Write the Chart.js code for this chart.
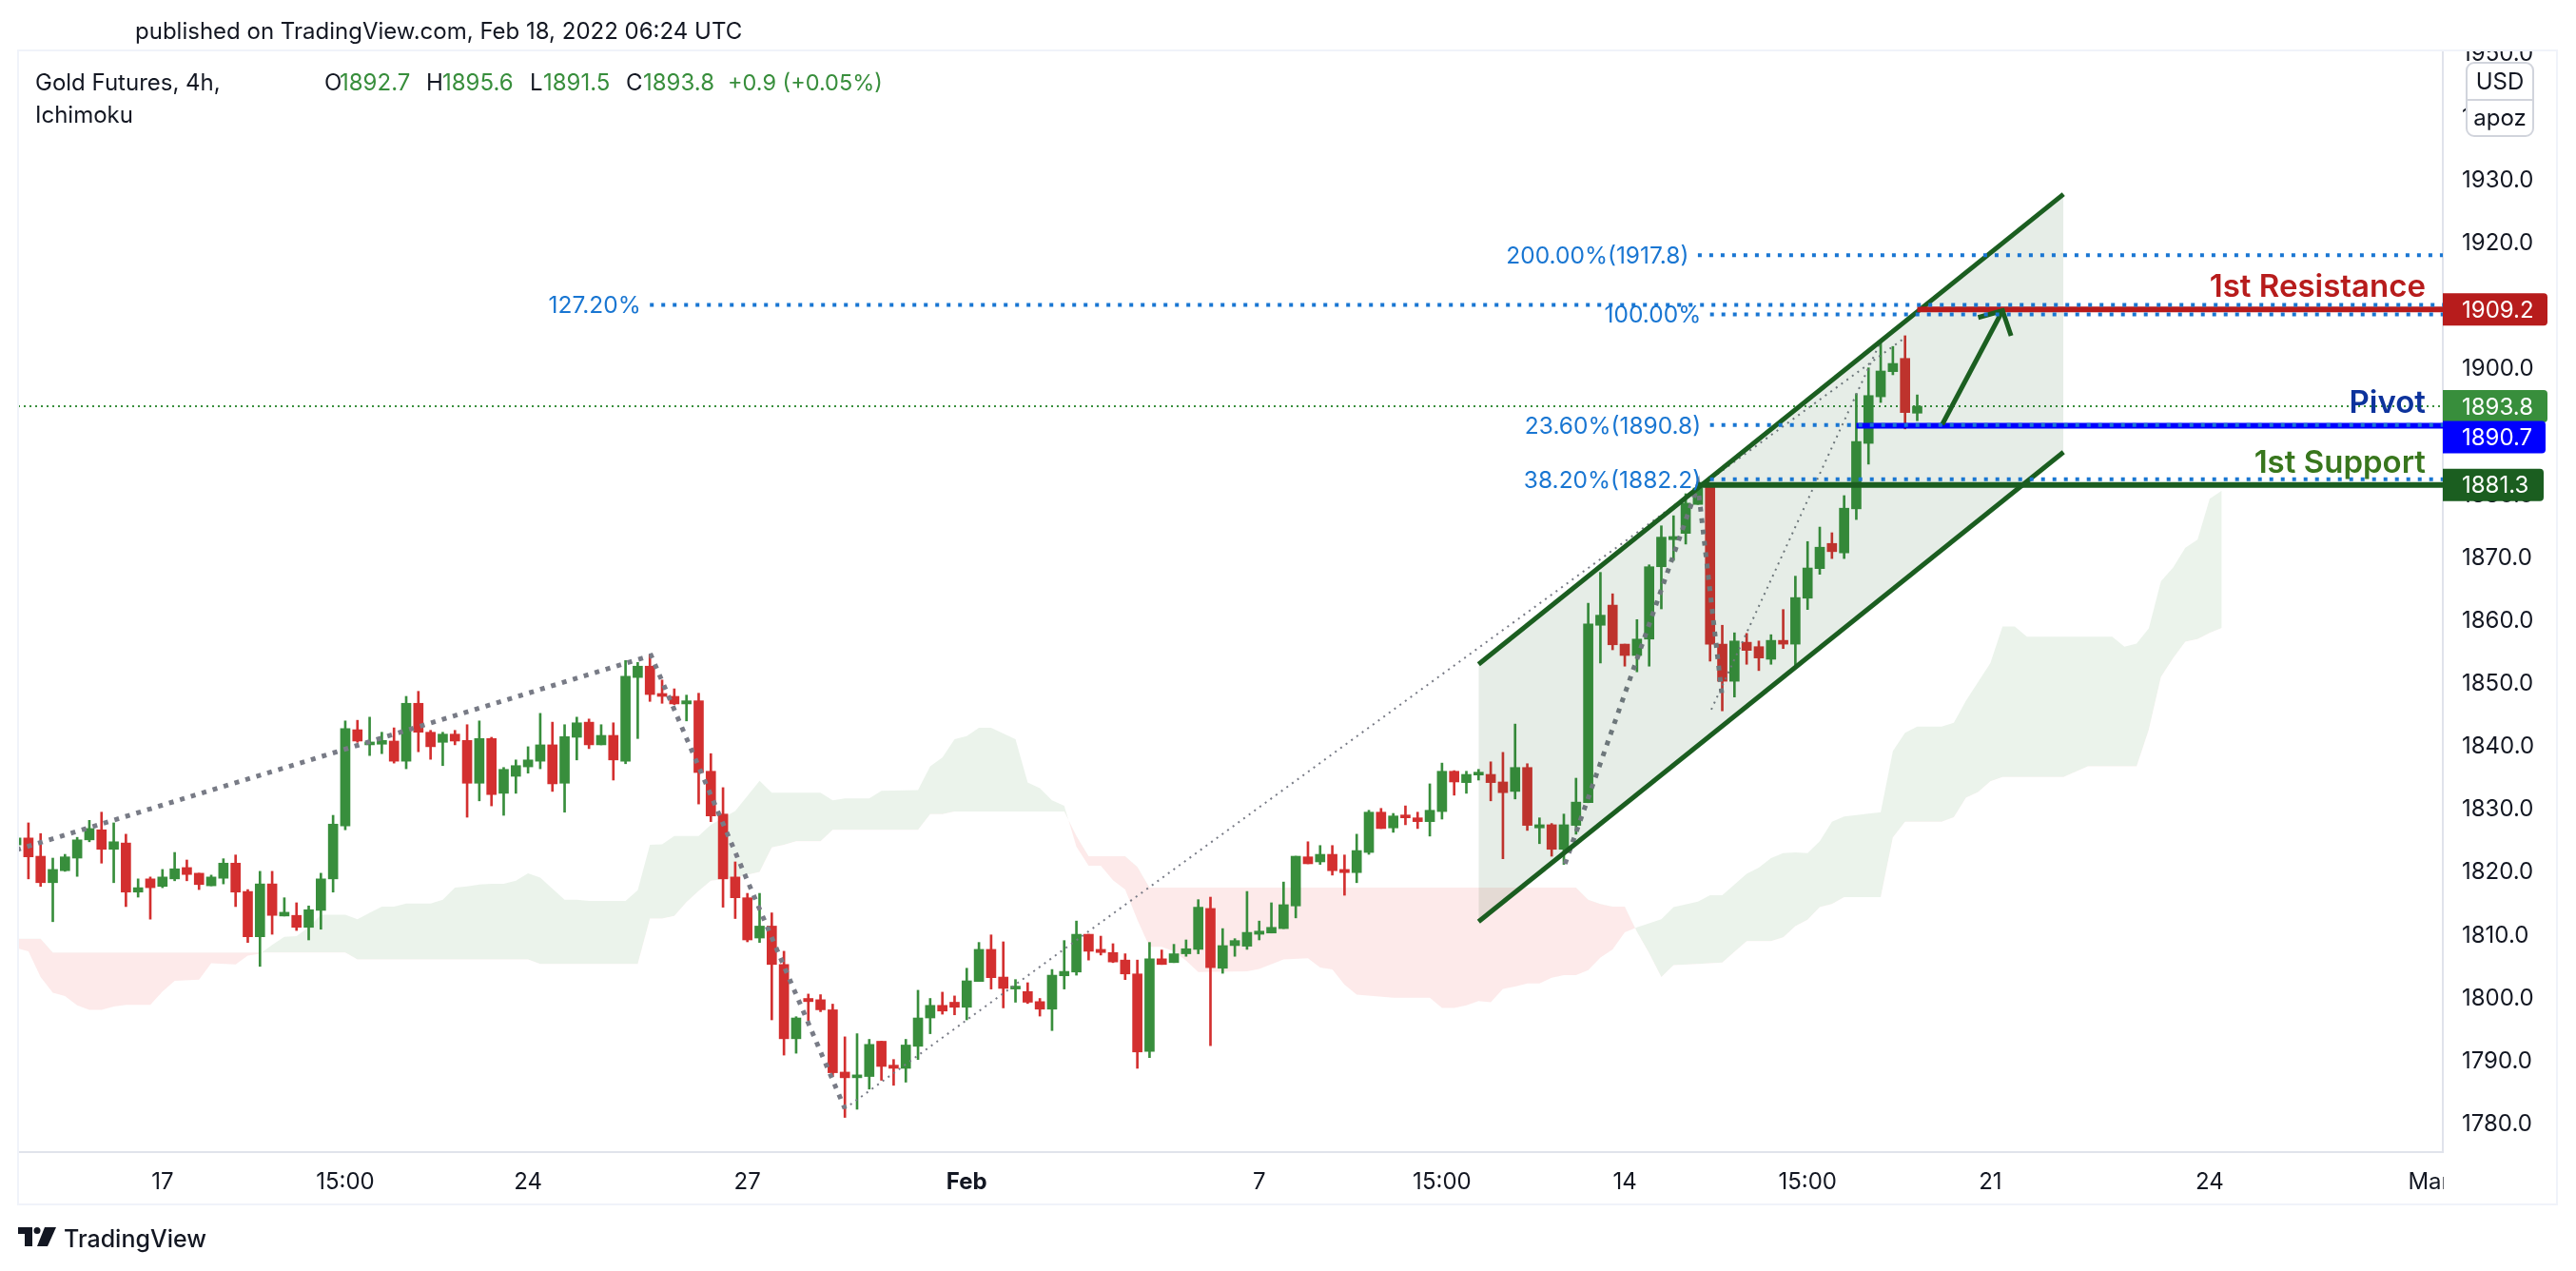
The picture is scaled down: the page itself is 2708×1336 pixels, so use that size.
<!DOCTYPE html>
<html>
<head>
<meta charset="utf-8">
<title>Gold Futures, 4h</title>
<script src="https://cdn.jsdelivr.net/npm/chart.js@4"></script>
<style>
    html, body { margin: 0; padding: 0; background: #fff; }
    canvas { display: block; }
</style>
</head>
<body>
<canvas id="goldChart" width="2708" height="1336"></canvas>
<script>
// Candles, one entry per 4h bar
const opens = [
    1824.1,1825.2,1822.3,1818.1,1820.0,1822.0,1824.9,1826.5,1823.4,1824.4,
    1816.6,1818.7,1817.5,1818.7,1820.5,1819.6,1817.6,1818.8,1821.2,1816.7,
    1809.5,1817.9,1812.8,1812.9,1811.0,1813.7,1818.7,1827.1,1842.4,1840.0,
    1840.1,1840.6,1837.4,1846.6,1842.0,1840.4,1841.7,1840.7,1833.9,1841.0,
    1832.3,1835.0,1836.5,1837.4,1840.0,1833.9,1841.2,1843.6,1840.0,1841.5,
    1837.4,1850.7,1852.5,1848.0,1847.7,1846.5,1847.0,1835.8,1829.0,1819.0,
    1815.7,1809.3,1811.2,1805.1,1793.3,1799.7,1799.5,1797.9,1788.0,1787.1,
    1787.3,1792.9,1789.1,1788.6,1792.1,1796.6,1798.6,1799.1,1798.3,1802.4,
    1807.5,1803.1,1801.2,1800.8,1799.2,1798.0,1803.3,1803.9,1809.9,1807.5,
    1807.0,1805.8,1803.6,1791.3,1806.0,1805.4,1806.8,1807.5,1814.0,1804.5,
    1808.1,1808.0,1809.9,1810.1,1810.8,1814.4,1822.2,1821.4,1822.6,1820.2,
    1819.7,1822.9,1829.3,1826.8,1828.7,1828.4,1827.8,1829.4,1835.8,1834.0,
    1835.2,1835.3,1834.1,1832.6,1836.4,1826.8,1827.3,1823.4,1827.2,1830.8,
    1859.0,1862.2,1856.0,1854.2,1856.8,1868.3,1872.6,1873.6,1878.2,1881.0,
    1856.0,1850.1,1856.3,1855.6,1853.6,1856.6,1856.0,1863.3,1868.0,1872.0,
    1870.5,1877.5,1887.9,1895.3,1899.3,1901.4,1892.7
];
const highs = [
    1825.5,1827.6,1825.9,1822.0,1822.6,1825.3,1828.0,1829.3,1827.6,1825.8,
    1818.7,1819.0,1820.2,1822.9,1821.7,1819.6,1819.3,1821.9,1822.5,1817.0,
    1819.9,1819.9,1815.7,1814.9,1814.4,1819.6,1828.8,1843.8,1843.9,1844.4,
    1842.0,1842.7,1847.7,1848.5,1842.3,1842.0,1842.3,1843.2,1843.8,1841.2,
    1836.4,1837.6,1839.7,1845.0,1843.6,1843.2,1844.4,1844.1,1843.2,1843.5,
    1853.4,1853.1,1854.3,1850.3,1848.9,1847.9,1848.2,1838.6,1833.2,1821.4,
    1816.4,1816.4,1813.3,1807.2,1796.8,1800.4,1800.3,1798.8,1793.6,1794.1,
    1793.2,1792.9,1790.0,1793.2,1801.0,1799.7,1800.7,1800.1,1804.5,1808.6,
    1809.8,1808.7,1802.7,1802.2,1799.7,1804.3,1808.9,1812.0,1809.9,1809.6,
    1808.4,1806.8,1805.8,1808.6,1807.4,1808.3,1809.0,1815.4,1815.8,1810.8,
    1809.2,1816.7,1812.0,1814.9,1818.2,1822.3,1824.6,1824.0,1824.0,1822.5,
    1825.8,1829.6,1829.9,1829.1,1830.3,1829.3,1833.8,1837.1,1835.9,1835.8,
    1836.1,1837.3,1838.8,1843.3,1837.0,1828.4,1827.5,1829.0,1834.7,1862.5,
    1867.4,1864.0,1856.0,1859.9,1868.6,1874.8,1876.4,1879.9,1881.3,1881.1,
    1859.0,1857.8,1857.7,1856.5,1857.5,1861.5,1866.8,1872.3,1874.6,1873.7,
    1879.6,1895.8,1899.9,1904.1,1903.3,1905.0,1895.6
];
const lows = [
    1823.5,1818.7,1817.5,1811.9,1819.9,1819.1,1824.6,1821.2,1818.1,1814.3,
    1815.8,1812.3,1817.3,1818.4,1818.4,1817.0,1817.6,1817.9,1814.3,1808.6,
    1804.8,1809.9,1812.8,1810.5,1809.0,1810.7,1816.6,1826.5,1840.4,1838.3,
    1838.6,1837.1,1836.2,1838.9,1837.7,1836.7,1840.0,1828.5,1831.1,1830.3,
    1828.8,1832.3,1835.5,1836.2,1832.6,1829.3,1837.6,1839.4,1840.0,1834.4,
    1837.0,1841.0,1846.9,1846.6,1846.4,1843.8,1830.6,1827.8,1814.2,1812.4,
    1808.7,1808.6,1796.3,1790.7,1791.0,1796.2,1797.6,1787.3,1780.8,1782.1,
    1785.3,1786.7,1785.9,1786.4,1790.0,1794.1,1797.2,1797.1,1796.3,1802.4,
    1801.2,1798.2,1799.1,1798.9,1796.9,1794.6,1801.2,1803.4,1805.8,1806.6,
    1805.4,1802.7,1788.6,1790.3,1805.1,1805.4,1806.4,1806.8,1792.2,1803.7,
    1806.4,1807.5,1809.0,1810.1,1810.8,1812.5,1821.1,1821.0,1819.3,1816.1,
    1818.1,1822.6,1826.7,1826.1,1827.3,1826.7,1825.5,1828.2,1832.0,1832.3,
    1834.4,1831.1,1821.9,1831.4,1826.4,1824.3,1822.3,1821.0,1825.8,1830.8,
    1853.0,1855.1,1852.5,1851.6,1852.5,1861.6,1869.3,1871.9,1878.2,1853.3,
    1845.4,1847.6,1852.8,1851.8,1852.8,1855.3,1852.2,1861.5,1867.1,1869.6,
    1869.6,1875.8,1884.6,1894.4,1898.8,1890.2,1891.5
];
const closes = [
    1825.2,1822.2,1818.1,1820.2,1822.2,1824.9,1826.7,1823.4,1824.6,1816.6,
    1817.3,1817.3,1819.0,1820.3,1819.4,1817.8,1819.0,1821.2,1816.6,1809.5,
    1817.9,1812.9,1813.4,1811.0,1813.8,1818.7,1827.4,1842.6,1840.6,1840.4,
    1840.7,1837.4,1846.6,1842.0,1839.7,1841.7,1840.6,1833.9,1841.0,1832.1,
    1836.1,1836.7,1837.6,1840.0,1833.8,1841.3,1843.5,1840.0,1841.5,1837.6,
    1850.9,1852.5,1848.0,1847.7,1846.5,1847.0,1835.6,1828.7,1818.7,1815.7,
    1809.0,1811.2,1805.1,1793.3,1796.6,1799.2,1797.9,1787.9,1787.1,1787.4,
    1792.4,1788.9,1788.6,1792.3,1796.6,1798.6,1797.7,1798.3,1802.5,1807.5,
    1803.0,1801.3,1801.6,1799.1,1798.0,1803.4,1804.0,1809.9,1807.2,1807.0,
    1805.5,1803.6,1791.2,1806.0,1805.1,1806.8,1807.6,1814.2,1804.6,1808.1,
    1808.9,1810.2,1810.4,1811.0,1814.6,1822.3,1821.1,1822.6,1820.0,1819.7,
    1823.2,1829.3,1826.7,1828.7,1828.4,1827.8,1829.6,1835.8,1834.1,1835.3,
    1835.5,1834.0,1832.4,1836.4,1827.2,1827.3,1823.4,1827.3,1830.9,1859.2,
    1860.6,1855.9,1854.2,1856.8,1868.3,1873.0,1873.1,1878.4,1880.8,1856.0,
    1850.1,1856.5,1855.0,1853.8,1856.6,1856.0,1863.4,1868.1,1871.4,1870.7,
    1877.6,1888.2,1895.5,1899.4,1900.6,1892.8,1893.8
];

// Ichimoku spans, vertices only (bar index, price)
const spanAX = [0,1,2,3,4,5,6,7,8,9,11,12,13,15,16,18,19,20,21,22,23,24,25,27,28,29,30,31,32,34,35,36,37,38,39,40,41,42,43,45,46,47,50,51,52,53,54,56,57,59,61,62,66,67,68,70,71,74,75,76,77,78,79,80,82,83,84,85,86,87,88,89,90,91,92,93,94,95,96,97,101,102,104,106,107,108,109,110,113,116,117,118,119,120,121,122,123,124,125,126,127,128,129,130,131,132,133,135,136,138,139,140,142,143,144,145,146,147,148,149,150,153,154,155,156,158,159,160,162,163,164,165,172,173,174,175,176,177,178,179,180,181];
const spanA = [1807.7,1807.2,1803.1,1800.6,1800.1,1798.6,1797.9,1797.9,1798.4,1798.7,1798.7,1800.8,1802.5,1802.7,1805.3,1805.1,1806.5,1806.8,1808.2,1809.5,1809.6,1811.0,1813.0,1813.0,1812.3,1813.3,1814.3,1814.3,1814.8,1814.8,1815.4,1817.3,1817.5,1817.8,1817.9,1817.9,1818.4,1819.6,1818.9,1815.4,1815.4,1815.2,1815.2,1816.9,1824.1,1824.2,1825.5,1825.5,1827.3,1829.5,1834.3,1832.4,1832.4,1831.2,1831.5,1831.5,1832.7,1832.8,1836.6,1838.0,1840.9,1841.4,1842.7,1842.7,1840.9,1834.0,1833.1,1831.2,1830.3,1823.8,1820.8,1820.8,1818.5,1817.0,1812.2,1807.9,1807.9,1807.2,1805.7,1803.9,1804.0,1804.4,1805.9,1806.1,1804.6,1804.3,1801.9,1800.3,1799.8,1799.8,1798.2,1798.2,1798.6,1799.3,1799.1,1801.2,1801.6,1802.1,1802.1,1803.0,1803.4,1803.4,1804.2,1806.2,1807.5,1810.2,1811.0,1812.3,1814.2,1815.1,1816.1,1816.1,1819.5,1820.5,1822.0,1822.8,1822.9,1822.8,1824.7,1827.8,1828.6,1829.3,1839.0,1841.9,1842.9,1842.9,1843.5,1847.0,1853.0,1858.8,1858.8,1857.2,1857.2,1855.6,1856.1,1858.5,1866.0,1868.2,1871.3,1872.6,1879.1,1880.4];
const spanBX = [0,2,3,27,28,42,43,51,52,53,54,55,56,57,59,61,62,63,64,66,67,74,75,76,77,86,87,88,91,92,93,128,129,130,131,132,133,134,135,136,138,140,142,144,145,146,147,148,149,150,153,154,155,158,159,160,161,162,163,168,170,174,175,176,177,178,179,180,181];
const spanB = [1809.2,1809.2,1807.0,1807.0,1805.9,1805.9,1805.2,1805.2,1812.4,1812.4,1812.8,1815.0,1816.8,1818.4,1818.9,1819.8,1823.7,1824.1,1824.7,1824.7,1826.5,1826.5,1829.0,1829.0,1829.4,1829.4,1825.5,1822.3,1822.3,1820.6,1817.3,1817.3,1815.4,1814.7,1814.3,1814.3,1810.3,1806.9,1803.1,1805.0,1805.2,1805.4,1808.8,1808.8,1809.4,1811.2,1812.2,1814.2,1814.7,1815.8,1815.8,1825.3,1827.8,1827.8,1828.5,1831.6,1832.5,1834.2,1834.9,1834.9,1836.6,1836.6,1842.4,1850.8,1853.8,1856.4,1856.8,1857.8,1858.6];

// Ascending channel
const channelX = [120, 168];
const channelUpper = [1852.8, 1927.5];
const channelLower = [1811.9, 1886.5];

// Trend drawings
const thickLeg1X = [0, 52.1, 68];
const thickLeg1Y = [1823.3, 1854.2, 1782.2];
const thickLeg2X = [127.1, 138, 140];
const thickLeg2Y = [1821.1, 1881.2, 1847.5];
const thinLeg1X = [68, 155];
const thinLeg1Y = [1782.2, 1904.7];
const thinLeg2X = [139.1, 153];
const thinLeg2Y = [1845.6, 1904.1];

// Arrow up to resistance
const arrowShaftX = [158.05, 163];
const arrowShaftY = [1890.9, 1909.0];
const arrowHeadX = [161, 163, 163.7];
const arrowHeadY = [1907.9, 1909.0, 1905.0];

// Fibonacci levels
const fibValues = [1917.8, 1909.9, 1908.4, 1890.8, 1882.2];
const fibStarts = [138, 52, 139, 139, 139];
const fibLabels = ['200.00%(1917.8)', '127.20%', '100.00%', '23.60%(1890.8)', '38.20%(1882.2)'];

// Support / resistance
const levelNames = ['1st Resistance', 'Pivot', '1st Support'];
const levelValues = [1909.2, 1890.7, 1881.3];
const levelStarts = [156, 151, 138];
const levelColors = ['#b71c1c', '#0000ff', '#1b5e20'];
const levelTextColors = ['#b71c1c', '#0d339c', '#38761d'];

const lastPrice = 1893.8;

// Axis ticks
const priceTicks = [1780,1790,1800,1810,1820,1830,1840,1850,1860,1870,1880,1890,1900,1910,1920,1930,1940,1950];
const timeTicks = [12, 27, 42, 60, 78, 102, 117, 132, 147, 162, 180, 198];
const timeLabels = ['17', '15:00', '24', '27', 'Feb', '7', '15:00', '14', '15:00', '21', '24', 'Mar'];

const xMin = 0.15, xMax = 199.13;
const yMin = 1775.29, yMax = 1950.34;

const GREEN = '#388e3c';
const RED = '#d32f2f';
const DARK = '#131722';
const FIB_BLUE = '#1976d2';
const FONT = 'Inter, "Liberation Sans", sans-serif';

const candleColors = opens.map((o, i) => closes[i] >= opens[i] ? GREEN : RED);
const wicks = opens.map((o, i) => ({ x: i, y: [lows[i], highs[i]] }));
const bodies = opens.map((o, i) => ({ x: i, y: [opens[i], closes[i]] }));

function toPoints(xs, ys) {
    return xs.map((x, i) => ({ x: x, y: ys[i] }));
}

function lineSet(points, color, width, dash, order) {
    return {
        type: 'line',
        data: points,
        borderColor: color,
        borderWidth: width,
        borderDash: dash || [],
        borderCapStyle: 'butt',
        pointRadius: 0,
        tension: 0,
        fill: false,
        order: order
    };
}

const datasets = [];
// 0, 1: cloud
datasets.push(Object.assign(lineSet(toPoints(spanAX, spanA), 'transparent', 0, [], 20), {
    fill: { target: 1, above: 'rgba(56,142,60,0.1)', below: 'rgba(239,83,80,0.12)' }
}));
datasets.push(lineSet(toPoints(spanBX, spanB), 'transparent', 0, [], 20));
// 2, 3: channel
datasets.push(Object.assign(lineSet(toPoints(channelX, channelUpper), '#1b5e20', 5, [], 3), {
    fill: { target: 3, above: 'rgba(27,94,32,0.11)', below: 'rgba(27,94,32,0.11)' }
}));
datasets.push(lineSet(toPoints(channelX, channelLower), '#1b5e20', 5, [], 3));

datasets.push(lineSet(toPoints([xMin, xMax], [lastPrice, lastPrice]), GREEN, 2, [2, 4], 12));

datasets.push({
    type: 'bar', data: wicks, backgroundColor: candleColors, barThickness: 2,
    grouped: false, minBarLength: 1, order: 8
});
datasets.push({
    type: 'bar', data: bodies, backgroundColor: candleColors, barThickness: 10,
    grouped: false, minBarLength: 3, order: 7
});

datasets.push(lineSet(toPoints(thickLeg1X, thickLeg1Y), '#787b86', 5, [5, 7], 5));
datasets.push(lineSet(toPoints(thickLeg2X, thickLeg2Y), '#787b86', 5, [5, 7], 5));
datasets.push(lineSet(toPoints(thinLeg1X, thinLeg1Y), '#787b86', 2, [2, 5], 5));
datasets.push(lineSet(toPoints(thinLeg2X, thinLeg2Y), '#787b86', 2, [2, 5], 5));

levelValues.forEach((v, i) => {
    datasets.push(lineSet(toPoints([levelStarts[i], xMax], [v, v]), levelColors[i], 6, [], 2));
});
fibValues.forEach((v, i) => {
    datasets.push(lineSet(toPoints([fibStarts[i], xMax], [v, v]), FIB_BLUE, 4, [4, 8], 1));
});

datasets.push(lineSet(toPoints(arrowShaftX, arrowShaftY), '#1b5e20', 5, [], 1));
datasets.push(lineSet(toPoints(arrowHeadX, arrowHeadY), '#1b5e20', 5, [], 1));

function label(ctx, text, x, y, font, color, align) {
    ctx.font = font;
    ctx.fillStyle = color;
    ctx.textAlign = align || 'left';
    ctx.textBaseline = 'middle';
    // Inter sits a little high on the middle baseline
    ctx.fillText(text, x, y + 1.5);
}

// Everything TradingView paints around the plot: header, tags, frame, logo
const overlay = {
    id: 'overlay',
    afterDraw(chart) {
        const ctx = chart.ctx;
        const { left, right, top, bottom } = chart.chartArea;
        const yScale = chart.scales.y;
        const xScale = chart.scales.x;
        const panelRight = 2688, frameBottom = 1266;

        ctx.save();
        // hide whatever spills out of the panels
        ctx.fillStyle = '#fff';
        ctx.fillRect(0, 0, 2708, top);
        ctx.fillRect(right + 1, bottom + 1, panelRight - right - 1, frameBottom - bottom - 1);

        // frame
        ctx.strokeStyle = '#f0f3fa';
        ctx.lineWidth = 2;
        ctx.strokeRect(left, top, panelRight - left, frameBottom - top);

        const f24 = '24px ' + FONT;
        label(ctx, 'published on TradingView.com, Feb 18, 2022 06:24 UTC', 142, 32, f24, DARK);
        label(ctx, 'Gold Futures, 4h,', 37, 86, f24, DARK);
        label(ctx, 'Ichimoku', 37, 120, f24, DARK);

        // OHLC legend
        label(ctx, 'O', 341, 86, f24, DARK);
        label(ctx, '1892.7', 357, 86, f24, GREEN);
        label(ctx, 'H', 448, 86, f24, DARK);
        label(ctx, '1895.6', 465, 86, f24, GREEN);
        label(ctx, 'L', 557, 86, f24, DARK);
        label(ctx, '1891.5', 571, 86, f24, GREEN);
        label(ctx, 'C', 658, 86, f24, DARK);
        label(ctx, '1893.8', 676, 86, f24, GREEN);
        label(ctx, '+0.9 (+0.05%)', 765, 86, '23.5px ' + FONT, GREEN);

        // fib labels sit left of their lines
        fibLabels.forEach((t, i) => {
            const x = xScale.getPixelForValue(fibStarts[i]) - 9.5;
            const y = yScale.getPixelForValue(fibValues[i]);
            label(ctx, t, x, y, '24.5px ' + FONT, FIB_BLUE, 'right');
        });

        // level names
        const fBold = '600 33px ' + FONT;
        levelNames.forEach((t, i) => {
            const lift = [25, 24.5, 24][i];
            label(ctx, t, 2550, yScale.getPixelForValue(levelValues[i]) - lift, fBold, levelTextColors[i], 'right');
        });

        // price tags
        const tagValues = [levelValues[0], lastPrice, levelValues[1], levelValues[2]];
        const tagColors = [levelColors[0], GREEN, levelColors[1], levelColors[2]];
        const tagWidths = [110, 110, 108, 106];
        const tagShift = [0, 0, 12, 0];
        tagValues.forEach((v, i) => {
            const y = yScale.getPixelForValue(v) + tagShift[i];
            ctx.fillStyle = tagColors[i];
            ctx.beginPath();
            ctx.roundRect(right, y - 17, tagWidths[i], 34, [0, 4, 4, 0]);
            ctx.fill();
            label(ctx, v.toFixed(1), 2588, y, f24, '#fff');
        });

        // USD / apoz box
        ctx.fillStyle = '#fff';
        ctx.strokeStyle = '#d1d4dc';
        ctx.lineWidth = 2;
        ctx.beginPath();
        ctx.roundRect(2593, 66, 70, 77, 8);
        ctx.fill();
        ctx.stroke();
        ctx.beginPath();
        ctx.moveTo(2593, 105);
        ctx.lineTo(2663, 105);
        ctx.stroke();
        label(ctx, 'USD', 2628, 85, f24, DARK, 'center');
        label(ctx, 'apoz', 2628, 123, f24, DARK, 'center');

        // logo
        ctx.fillStyle = DARK;
        ctx.fillRect(19, 1290, 15, 7);
        ctx.fillRect(26, 1290, 8, 20);
        ctx.beginPath();
        ctx.arc(39, 1293.5, 3.5, 0, Math.PI * 2);
        ctx.fill();
        ctx.beginPath();
        ctx.moveTo(47, 1290);
        ctx.lineTo(59, 1290);
        ctx.lineTo(50, 1310);
        ctx.lineTo(39, 1310);
        ctx.fill();
        label(ctx, 'TradingView', 67, 1302, '500 25px ' + FONT, DARK);

        ctx.restore();
    }
};

new Chart(document.getElementById('goldChart'), {
    type: 'line',
    data: { datasets: datasets },
    plugins: [overlay],
    options: {
        responsive: false,
        animation: false,
        devicePixelRatio: 1,
        layout: { padding: { left: 19, top: 53, right: 20, bottom: 70 } },
        plugins: { legend: { display: false }, tooltip: { enabled: false }, title: { display: false } },
        scales: {
            x: {
                type: 'linear',
                min: xMin,
                max: xMax,
                offset: false,
                grid: { display: false, drawTicks: false },
                border: { display: true, color: '#e0e3eb', width: 2 },
                afterBuildTicks(scale) {
                    scale.ticks = timeTicks.map(v => ({ value: v }));
                },
                afterFit(scale) {
                    scale.height = 55;
                    scale.paddingLeft = scale.paddingRight = 0;
                },
                ticks: {
                    autoSkip: false,
                    maxRotation: 0,
                    padding: 17,
                    color: DARK,
                    font(ctx) {
                        const isMonth = ctx.tick && ctx.tick.value === 78;
                        return { family: FONT, size: 24, weight: isMonth ? '700' : '400' };
                    },
                    callback(value) {
                        return timeLabels[timeTicks.indexOf(value)];
                    }
                }
            },
            y: {
                position: 'right',
                min: yMin,
                max: yMax,
                grid: { display: false, drawTicks: false },
                border: { display: true, color: '#e0e3eb', width: 2 },
                afterBuildTicks(scale) {
                    scale.ticks = priceTicks.map(v => ({ value: v }));
                },
                afterFit(scale) {
                    scale.width = 120;
                    scale.paddingTop = scale.paddingBottom = 0;
                },
                ticks: {
                    autoSkip: false,
                    padding: 20,
                    labelOffset: 2,
                    color: DARK,
                    font: { family: FONT, size: 24 },
                    callback(value) {
                        return value.toFixed(1);
                    }
                }
            }
        }
    }
});
</script>
</body>
</html>
